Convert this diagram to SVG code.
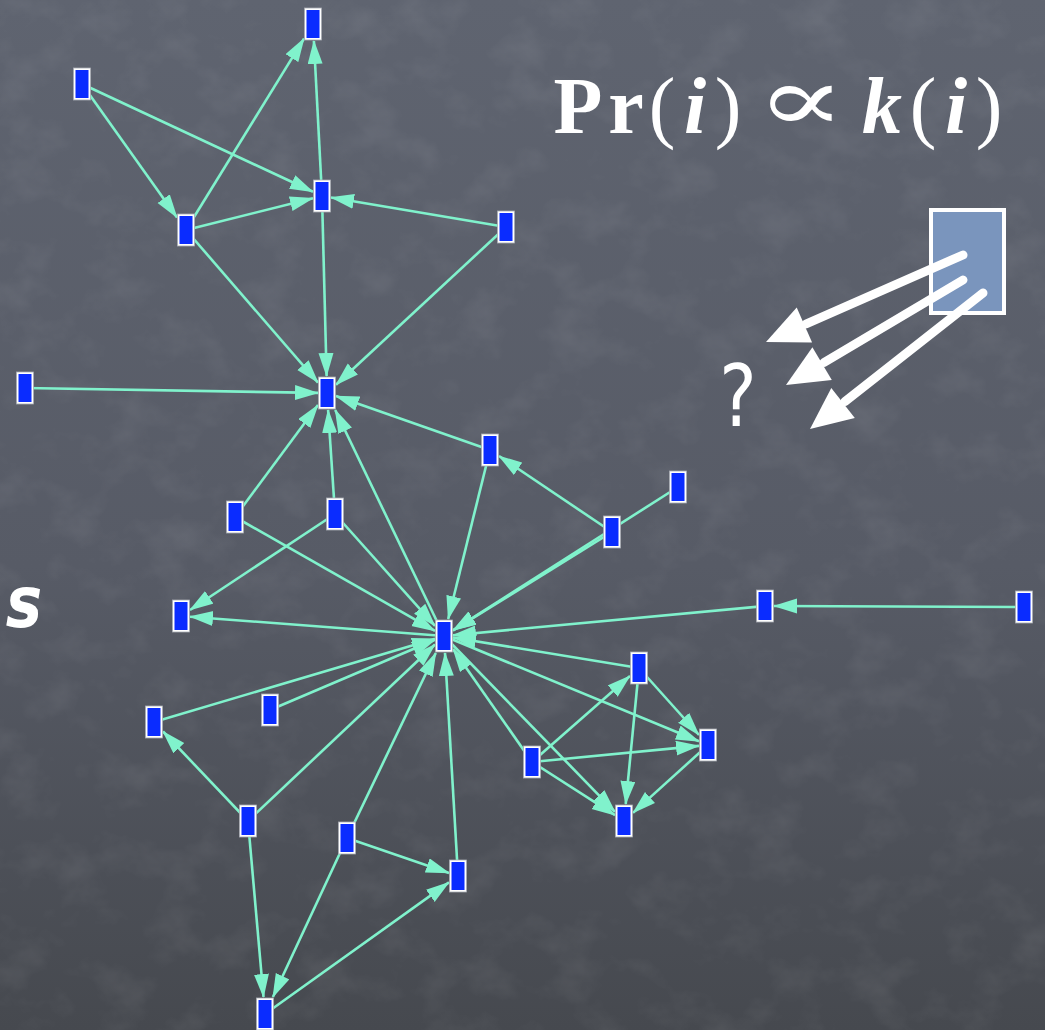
<svg xmlns="http://www.w3.org/2000/svg" width="1045" height="1030" viewBox="0 0 1045 1030">
<defs>
<linearGradient id="bg" x1="0" y1="0" x2="0" y2="1">
<stop offset="0" stop-color="#5f6470"/>
<stop offset="0.55" stop-color="#575b66"/>
<stop offset="1" stop-color="#46494f"/>
</linearGradient>
<filter id="tex" x="0" y="0" width="100%" height="100%">
<feTurbulence type="fractalNoise" baseFrequency="0.02 0.025" numOctaves="4" seed="7"/>
<feColorMatrix type="matrix" values="0 0 0 0 1  0 0 0 0 1  0 0 0 0 1  0.6 0 0 0 -0.28"/>
</filter>
<marker id="ah" markerUnits="userSpaceOnUse" markerWidth="24" markerHeight="16" refX="23" refY="7.5" orient="auto">
<path d="M0,0 L24,7.5 L0,15 z" fill="#80f2cc"/>
</marker>
<style>
.e{stroke:#80f2cc;stroke-width:2.6;fill:none;marker-end:url(#ah)}
.nw{fill:#ffffff;stroke:#a9acb3;stroke-width:0.8}
.nb{fill:#0a2cff}
.f{fill:#ffffff;text-anchor:middle}
.wa{stroke:#ffffff;stroke-width:9;stroke-linecap:round;fill:none}
.wh{fill:#ffffff}
</style>
</defs>
<rect width="1045" height="1030" fill="url(#bg)"/>
<rect width="1045" height="1030" filter="url(#tex)" opacity="0.25"/>

<g id="connectors">
<line class="e" x1="82" y1="84" x2="177" y2="217.4"/>
<line class="e" x1="82" y1="84" x2="313" y2="191.8"/>
<line class="e" x1="186" y1="230" x2="304" y2="38.6"/>
<line class="e" x1="322" y1="196" x2="313.9" y2="41"/>
<line class="e" x1="186" y1="230" x2="313" y2="198.2"/>
<line class="e" x1="506" y1="227" x2="331" y2="197.5"/>
<line class="e" x1="186" y1="230" x2="318" y2="382.6"/>
<line class="e" x1="322" y1="196" x2="326.6" y2="376"/>
<line class="e" x1="506" y1="227" x2="336" y2="384.7"/>
<line class="e" x1="25" y1="388" x2="318" y2="392.9"/>
<line class="e" x1="490" y1="450" x2="336" y2="396.1"/>
<line class="e" x1="235" y1="517" x2="318" y2="405.1"/>
<line class="e" x1="335" y1="514" x2="328.1" y2="410"/>
<line class="e" x1="444" y1="636" x2="335.2" y2="410"/>
<line class="e" x1="612" y1="532" x2="499" y2="456"/>
<line class="e" x1="678" y1="487" x2="453" y2="630.3"/>
<line class="e" x1="612" y1="532" x2="453" y2="630.4"/>
<line class="e" x1="490" y1="450" x2="448.2" y2="619"/>
<line class="e" x1="335" y1="514" x2="435" y2="625.9"/>
<line class="e" x1="335" y1="514" x2="190" y2="610"/>
<line class="e" x1="235" y1="517" x2="435" y2="630.9"/>
<line class="e" x1="444" y1="636" x2="190" y2="616.7"/>
<line class="e" x1="1024" y1="607" x2="774" y2="606"/>
<line class="e" x1="765" y1="606" x2="453" y2="635.2"/>
<line class="e" x1="639" y1="668" x2="453" y2="637.5"/>
<line class="e" x1="444" y1="636" x2="699" y2="741.3"/>
<line class="e" x1="639" y1="668" x2="699" y2="735"/>
<line class="e" x1="639" y1="668" x2="625.7" y2="804"/>
<line class="e" x1="708" y1="745" x2="633" y2="812.9"/>
<line class="e" x1="532" y1="762" x2="630" y2="675.9"/>
<line class="e" x1="532" y1="762" x2="699" y2="745.9"/>
<line class="e" x1="532" y1="762" x2="615" y2="815.2"/>
<line class="e" x1="444" y1="636" x2="615" y2="811.8"/>
<line class="e" x1="532" y1="762" x2="453" y2="648.9"/>
<line class="e" x1="270" y1="710" x2="435" y2="639.8"/>
<line class="e" x1="154" y1="722" x2="435" y2="638.7"/>
<line class="e" x1="248" y1="821" x2="163" y2="731.5"/>
<line class="e" x1="248" y1="821" x2="435" y2="644.5"/>
<line class="e" x1="248" y1="821" x2="263.5" y2="997"/>
<line class="e" x1="347" y1="838" x2="435.8" y2="653"/>
<line class="e" x1="347" y1="838" x2="272.9" y2="997"/>
<line class="e" x1="347" y1="838" x2="449" y2="872.9"/>
<line class="e" x1="458" y1="876" x2="445" y2="653"/>
<line class="e" x1="265" y1="1014" x2="449" y2="882.4"/>
</g>

<g id="nodes">
<g id="n1" transform="translate(313,24)"><rect class="nw" x="-8.5" y="-16" width="17" height="32"/><rect class="nb" x="-6.5" y="-14" width="13" height="28"/></g>
<g id="n2" transform="translate(82,84)"><rect class="nw" x="-8.5" y="-16" width="17" height="32"/><rect class="nb" x="-6.5" y="-14" width="13" height="28"/></g>
<g id="n3" transform="translate(322,196)"><rect class="nw" x="-8.5" y="-16" width="17" height="32"/><rect class="nb" x="-6.5" y="-14" width="13" height="28"/></g>
<g id="n4" transform="translate(186,230)"><rect class="nw" x="-8.5" y="-16" width="17" height="32"/><rect class="nb" x="-6.5" y="-14" width="13" height="28"/></g>
<g id="n5" transform="translate(506,227)"><rect class="nw" x="-8.5" y="-16" width="17" height="32"/><rect class="nb" x="-6.5" y="-14" width="13" height="28"/></g>
<g id="n6" transform="translate(25,388)"><rect class="nw" x="-8.5" y="-16" width="17" height="32"/><rect class="nb" x="-6.5" y="-14" width="13" height="28"/></g>
<g id="n7" transform="translate(327,393)"><rect class="nw" x="-8.5" y="-16" width="17" height="32"/><rect class="nb" x="-6.5" y="-14" width="13" height="28"/></g>
<g id="n8" transform="translate(490,450)"><rect class="nw" x="-8.5" y="-16" width="17" height="32"/><rect class="nb" x="-6.5" y="-14" width="13" height="28"/></g>
<g id="n9" transform="translate(678,487)"><rect class="nw" x="-8.5" y="-16" width="17" height="32"/><rect class="nb" x="-6.5" y="-14" width="13" height="28"/></g>
<g id="n10" transform="translate(235,517)"><rect class="nw" x="-8.5" y="-16" width="17" height="32"/><rect class="nb" x="-6.5" y="-14" width="13" height="28"/></g>
<g id="n11" transform="translate(335,514)"><rect class="nw" x="-8.5" y="-16" width="17" height="32"/><rect class="nb" x="-6.5" y="-14" width="13" height="28"/></g>
<g id="n12" transform="translate(612,532)"><rect class="nw" x="-8.5" y="-16" width="17" height="32"/><rect class="nb" x="-6.5" y="-14" width="13" height="28"/></g>
<g id="n13" transform="translate(181,616)"><rect class="nw" x="-8.5" y="-16" width="17" height="32"/><rect class="nb" x="-6.5" y="-14" width="13" height="28"/></g>
<g id="n14" transform="translate(444,636)"><rect class="nw" x="-8.5" y="-16" width="17" height="32"/><rect class="nb" x="-6.5" y="-14" width="13" height="28"/></g>
<g id="n15" transform="translate(765,606)"><rect class="nw" x="-8.5" y="-16" width="17" height="32"/><rect class="nb" x="-6.5" y="-14" width="13" height="28"/></g>
<g id="n16" transform="translate(1024,607)"><rect class="nw" x="-8.5" y="-16" width="17" height="32"/><rect class="nb" x="-6.5" y="-14" width="13" height="28"/></g>
<g id="n17" transform="translate(639,668)"><rect class="nw" x="-8.5" y="-16" width="17" height="32"/><rect class="nb" x="-6.5" y="-14" width="13" height="28"/></g>
<g id="n18" transform="translate(270,710)"><rect class="nw" x="-8.5" y="-16" width="17" height="32"/><rect class="nb" x="-6.5" y="-14" width="13" height="28"/></g>
<g id="n19" transform="translate(154,722)"><rect class="nw" x="-8.5" y="-16" width="17" height="32"/><rect class="nb" x="-6.5" y="-14" width="13" height="28"/></g>
<g id="n20" transform="translate(708,745)"><rect class="nw" x="-8.5" y="-16" width="17" height="32"/><rect class="nb" x="-6.5" y="-14" width="13" height="28"/></g>
<g id="n21" transform="translate(532,762)"><rect class="nw" x="-8.5" y="-16" width="17" height="32"/><rect class="nb" x="-6.5" y="-14" width="13" height="28"/></g>
<g id="n22" transform="translate(248,821)"><rect class="nw" x="-8.5" y="-16" width="17" height="32"/><rect class="nb" x="-6.5" y="-14" width="13" height="28"/></g>
<g id="n23" transform="translate(624,821)"><rect class="nw" x="-8.5" y="-16" width="17" height="32"/><rect class="nb" x="-6.5" y="-14" width="13" height="28"/></g>
<g id="n24" transform="translate(347,838)"><rect class="nw" x="-8.5" y="-16" width="17" height="32"/><rect class="nb" x="-6.5" y="-14" width="13" height="28"/></g>
<g id="n25" transform="translate(458,876)"><rect class="nw" x="-8.5" y="-16" width="17" height="32"/><rect class="nb" x="-6.5" y="-14" width="13" height="28"/></g>
<g id="n26" transform="translate(265,1014)"><rect class="nw" x="-8.5" y="-16" width="17" height="32"/><rect class="nb" x="-6.5" y="-14" width="13" height="28"/></g>
</g>

<g id="formula" font-family="Liberation Serif, Times New Roman, serif" font-size="80">
<text class="f" x="578" y="133" font-weight="bold">P</text>
<text class="f" x="626" y="133" font-weight="bold">r</text>
<text class="f" x="662" y="133">(</text>
<text class="f" x="695" y="133" font-weight="bold" font-style="italic">i</text>
<text class="f" x="728" y="133">)</text>
<text class="f" x="801" y="131" font-family="DejaVu Serif, serif" font-size="92" transform="translate(801,0) scale(1.45,1) translate(-801,0)">∝</text>
<text class="f" x="882" y="133" font-weight="bold" font-style="italic">k</text>
<text class="f" x="923" y="133">(</text>
<text class="f" x="956" y="133" font-weight="bold" font-style="italic">i</text>
<text class="f" x="989" y="133">)</text>
</g>

<g id="newnode">
<rect x="931" y="210" width="73" height="103" fill="#7a95bd" stroke="#ffffff" stroke-width="4"/>
<line class="wa" x1="963" y1="255" x2="806" y2="324"/>
<polygon class="wh" points="766,342 812.1,342.4 796.7,307.6"/>
<line class="wa" x1="963" y1="280" x2="824" y2="362.5"/>
<polygon class="wh" points="786,385 831.8,380 812.4,347.3"/>
<line class="wa" x1="983" y1="293" x2="845" y2="401.5"/>
<polygon class="wh" points="810,429 854.8,417.9 831.3,388.1"/>
<text x="738" y="426" font-family="DejaVu Sans, sans-serif" font-size="86" fill="#ffffff" text-anchor="middle" transform="translate(738,0) scale(0.82,1) translate(-738,0)">?</text>
</g>

<text x="24" y="627" font-family="DejaVu Sans, sans-serif" font-size="72" font-style="italic" font-weight="bold" fill="#ffffff" text-anchor="middle" transform="translate(24,0) scale(0.85,1) translate(-24,0)">s</text>
</svg>
